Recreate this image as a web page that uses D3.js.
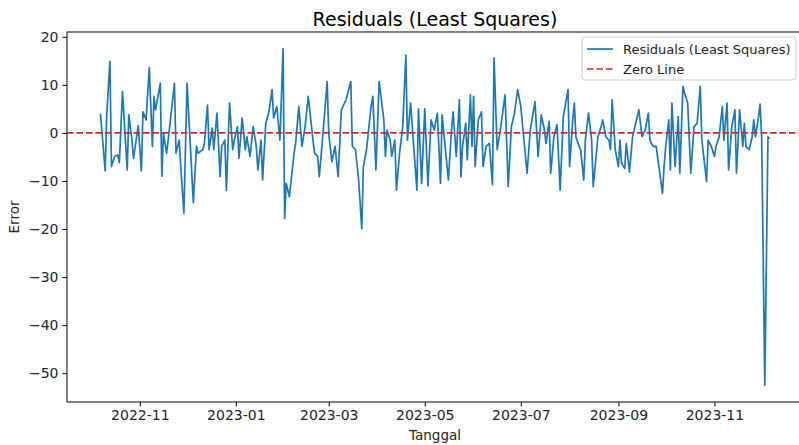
<!DOCTYPE html>
<html>
<head>
<meta charset="utf-8">
<script src="https://cdn.jsdelivr.net/npm/d3@7"></script>
<style>
  body { margin: 0; background: #fff; }
  svg { display: block; font-family: "DejaVu Sans", sans-serif; }
  .tick text { fill: #262626; font-size: 14px; font-family: "DejaVu Sans", sans-serif; }
  .tick line { stroke: #000; }
  .domain { stroke: none; }
</style>
</head>
<body>
<svg id="chart" width="799" height="445"></svg>
<script>
// days counted from baseDate (2022-11-01)
const baseDate = new Date(2022, 10, 1);
const dayOffsets = [
  -25, -22, -21, -19, -18, -16, -14, -13, -11, -8, -7, -5, -4, -1, 1, 2, 4, 6, 8, 9, 10, 13, 14, 15, 17, 18, 22, 23, 25, 26, 28, 30,
  34, 36, 37, 40, 41, 43, 44, 46, 47, 49, 51, 52, 54, 55, 57, 59, 60, 62, 63, 65, 67, 68, 70, 72, 74, 75, 77, 78, 80, 82, 84, 85, 87, 89, 91, 92, 93, 95, 98, 99, 101, 103, 105, 107,
  110, 111, 113, 114, 116, 119, 120, 122, 124, 126, 128, 131, 134, 135, 137, 139, 141, 142, 144, 147, 148, 150, 152, 155, 156, 157, 159, 160, 162, 163, 165, 167, 169, 170, 172, 176, 177, 179, 181, 183,
  185, 187, 189, 191, 192, 196, 198, 199, 201, 203, 204, 205, 207, 208, 210, 211, 212, 213, 215, 217, 218, 220, 222, 224, 225, 227, 229, 232, 234, 236, 238, 240, 242, 246, 248, 251, 253, 255,
  257, 258, 260, 261, 263, 265, 267, 269, 272, 273, 275, 276, 277, 279, 280, 282, 283, 285, 287, 288, 291, 293, 294, 296, 298, 299, 300, 302, 304, 305, 306, 308, 309, 311, 313, 315, 317, 319, 321, 323, 324, 326, 328, 330, 332, 333, 334,
  336, 337, 338, 340, 342, 343, 345, 346, 348, 350, 352, 354, 356, 357, 360, 361, 363, 365, 366, 368, 370, 371, 373, 374, 376, 378, 379, 381, 383, 384, 385, 387, 389, 390, 391, 393, 394, 395, 397, 399, 400
];
const residuals = [
  4.0, -7.9, 3.75, 14.9, -7.0, -4.9, -4.6, -6.2, 8.6, -7.7, 3.75, -1.5, -5.3, 1.5, -7.9, 4.4, 2.7, 13.6, -2.8, 7.6, 4.8, 10.3, -9.0, -0.1, -4.2, -1.5, 10.3, -4.2, -1.5, -7.0, -16.7, 10.3,
  -14.5, -2.8, -4.2, -3.5, -2.2, 5.8, -3.5, 1.0, -3.5, 4.1, -9.1, -2.8, -1.5, -12.0, 6.2, -3.5, -1.5, 1.3, -5.3, 3.1, -3.5, -0.8, -4.9, 1.3, -2.8, -7.7, -1.5, -9.8, 2.0, 4.4, 9.0, 3.1, 5.5, -1.5, 17.5, -17.8, -10.5, -13.3, -4.2, -2.2, 5.5, -2.8, 1.3, 7.6,
  -1.5, -4.2, -4.9, -9.1, -1.5, 10.7, -0.1, -6.0, -2.8, -9.1, 4.8, 6.9, 10.7, -2.8, -3.5, -9.8, -20.0, -7.0, -3.5, 5.8, 7.6, -7.7, 10.7, 2.7, -4.9, 0.6, -1.5, -4.9, -1.5, -11.9, -4.2, 1.3, 16.2, -1.5, 6.2, -11.9, 5.0, -10.5, 5.0, -11.0,
  2.7, 0.6, 4.1, -10.5, 3.75, -9.8, 0.6, 4.4, -4.9, 6.9, -9.1, -2.8, 2.0, -5.6, 7.9, -2.8, 7.6, -7.0, 2.7, 4.4, -7.0, -2.8, -2.2, -10.8, 15.6, -3.5, 0.6, 7.9, -11.2, 1.3, 4.1, 9.0, 5.5, -8.4, 0.6, 6.5, -4.9, 3.75,
  0.6, -2.2, 2.4, -8.4, -0.8, 1.7, -11.9, 3.4, 9.0, -7.0, 2.7, 6.2, -0.8, -2.8, -3.5, -9.8, -1.5, 4.1, -1.5, -11.2, -0.8, 1.3, 2.7, -0.8, -1.5, -3.5, 6.9, -3.5, -7.0, -1.5, -6.3, -7.4, -2.2, -8.1, -0.8, 2.0, 4.8, -0.8, 0.6, 4.1, -1.5, -2.8, -2.8, -7.7, -12.6, -7.0, -3.0,
  2.7, -7.7, 6.2, -7.0, 3.4, -8.4, 9.7, 8.3, 6.2, -8.4, 1.3, 2.0, 9.7, -1.5, -10.1, -1.5, -2.8, -4.9, -2.8, -0.8, 5.5, -1.5, 6.2, -7.7, 1.3, 4.8, -8.4, 4.8, -2.8, 2.0, -2.8, -3.5, -0.8, 2.7, -0.8, 3.4, 6.0, -1.0, -52.5, -0.8, -1.2
];
const yTicks = [-50, -40, -30, -20, -10, 0, 10, 20];
const titleText = "Residuals (Least Squares)";
const legendLabels = ["Residuals (Least Squares)", "Zero Line"];

const data = dayOffsets.map((d, i) => ({ date: d3.timeDay.offset(baseDate, d), value: residuals[i] }));

const svg = d3.select("#chart");
const plot = { left: 67, right: 803, top: 32, bottom: 402 };

// matplotlib style 5% margins
const xExt = d3.extent(data, d => d.date);
const xPad = (xExt[1] - xExt[0]) * 0.05;
const x = d3.scaleTime()
    .domain([new Date(+xExt[0] - xPad), new Date(+xExt[1] + xPad)])
    .range([plot.left, plot.right]);

const yExt = d3.extent(data, d => d.value);
const yPad = (yExt[1] - yExt[0]) * 0.05;
const y = d3.scaleLinear()
    .domain([yExt[0] - yPad, yExt[1] + yPad])
    .range([plot.bottom, plot.top]);

svg.append("defs").append("clipPath").attr("id", "clip")
    .append("rect")
    .attr("x", plot.left).attr("y", plot.top)
    .attr("width", plot.right - plot.left).attr("height", plot.bottom - plot.top);

const g = svg.append("g").attr("clip-path", "url(#clip)");

const line = d3.line().x(d => x(d.date)).y(d => y(d.value));
g.append("path")
    .datum(data)
    .attr("fill", "none")
    .attr("stroke", "#1f77b4")
    .attr("stroke-width", 1.7)
    .attr("stroke-linejoin", "round")
    .attr("d", line);

g.append("line")
    .attr("x1", plot.left).attr("x2", plot.right)
    .attr("y1", y(0)).attr("y2", y(0))
    .attr("stroke", "#d62728")
    .attr("stroke-width", 1.7)
    .attr("stroke-dasharray", "6.5,3");

// axes
const xAxis = d3.axisBottom(x)
    .ticks(d3.timeMonth.every(2))
    .tickFormat(d3.timeFormat("%Y-%m"))
    .tickSizeOuter(0).tickSize(4.5).tickPadding(4);
svg.append("g").attr("transform", `translate(0,${plot.bottom})`).call(xAxis);

const yAxis = d3.axisLeft(y)
    .tickValues(yTicks)
    .tickFormat(d => d < 0 ? "\u2212" + Math.abs(d) : d)
    .tickSizeOuter(0).tickSize(4.5).tickPadding(4);
svg.append("g").attr("transform", `translate(${plot.left},0)`).call(yAxis);

svg.append("rect")
    .attr("x", plot.left).attr("y", plot.top)
    .attr("width", plot.right - plot.left).attr("height", plot.bottom - plot.top)
    .attr("fill", "none").attr("stroke", "#1a1a1a").attr("stroke-width", 1.1);

svg.append("text")
    .attr("x", (plot.left + plot.right) / 2).attr("y", 26)
    .attr("text-anchor", "middle")
    .attr("font-size", 19).attr("fill", "#000")
    .text(titleText);

svg.append("text")
    .attr("x", (plot.left + plot.right) / 2).attr("y", 440)
    .attr("text-anchor", "middle")
    .attr("font-size", 13.5).attr("fill", "#262626")
    .text("Tanggal");

svg.append("text")
    .attr("transform", `translate(19,${(plot.top + plot.bottom) / 2}) rotate(-90)`)
    .attr("text-anchor", "middle")
    .attr("font-size", 13.5).attr("fill", "#262626")
    .text("Error");

// legend
const leg = svg.append("g").attr("transform", "translate(582,37)");
leg.append("rect")
    .attr("width", 214).attr("height", 43).attr("rx", 3)
    .attr("fill", "#fff").attr("fill-opacity", 0.8)
    .attr("stroke", "#d0d0d0");
const legStyles = [
  { color: "#1f77b4", dash: null },
  { color: "#d62728", dash: "6.5,3" }
];
legendLabels.forEach((label, i) => {
    const row = leg.append("g").attr("transform", `translate(0,${12 + i * 20})`);
    row.append("line")
        .attr("x1", 5).attr("x2", 31)
        .attr("stroke", legStyles[i].color).attr("stroke-width", 1.7)
        .attr("stroke-dasharray", legStyles[i].dash);
    row.append("text")
        .attr("x", 41).attr("dy", "0.35em")
        .attr("font-size", 13).attr("fill", "#262626")
        .text(label);
});
</script>
</body>
</html>
